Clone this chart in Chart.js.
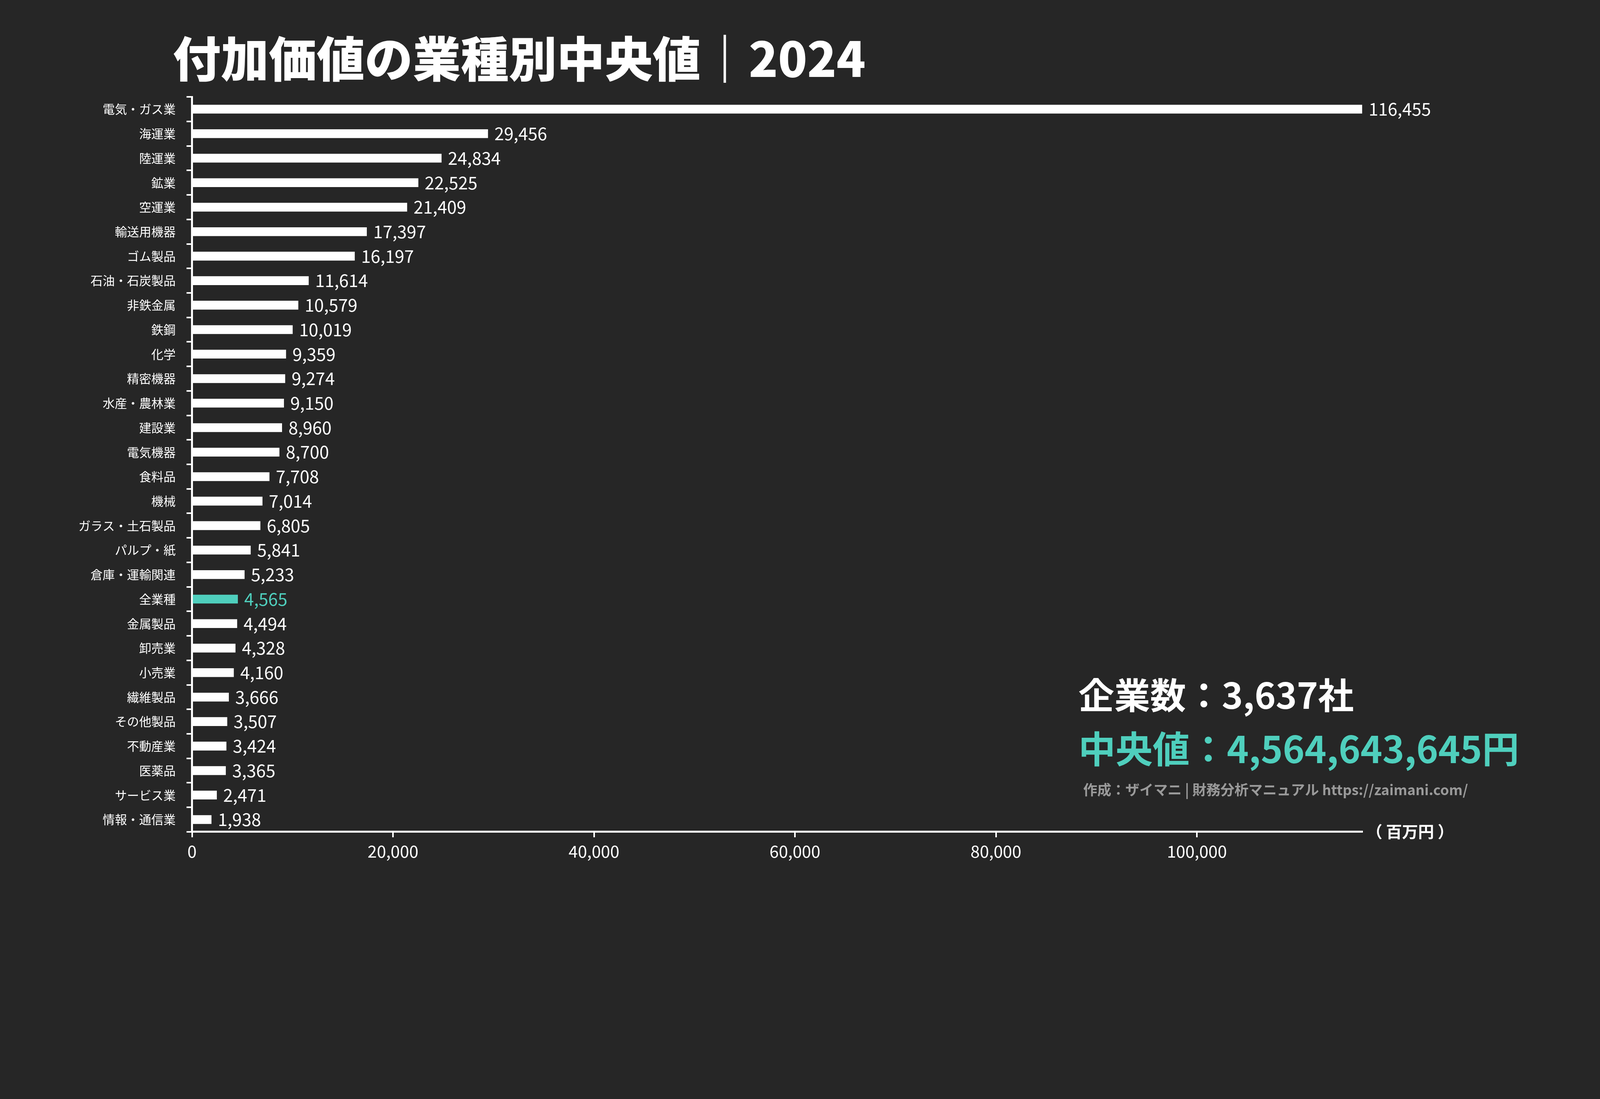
<!DOCTYPE html>
<html><head><meta charset="utf-8">
<script src="https://cdn.jsdelivr.net/npm/chart.js@4"></script>
<style>html,body{margin:0;background:#262626;overflow:hidden;}#wrap{width:100vw;height:56.28vw;position:relative;}</style>
</head><body><div id="wrap"><canvas id="myChart"></canvas></div>
<script>
const industries = ['電気・ガス業','海運業','陸運業','鉱業','空運業','輸送用機器','ゴム製品','石油・石炭製品','非鉄金属','鉄鋼','化学','精密機器','水産・農林業','建設業','電気機器','食料品','機械','ガラス・土石製品','パルプ・紙','倉庫・運輸関連','全業種','金属製品','卸売業','小売業','繊維製品','その他製品','不動産業','医薬品','サービス業','情報・通信業'];
const medianValues = [116455,29456,24834,22525,21409,17397,16197,11614,10579,10019,9359,9274,9150,8960,8700,7708,7014,6805,5841,5233,4565,4494,4328,4160,3666,3507,3424,3365,2471,1938];
const xTicks = [0,20000,40000,60000,80000,100000];
const highlight = '全業種';
const FONT = '"Noto Sans CJK JP", "Noto Sans", sans-serif';
const teal = '#4fcfbd';
const colors = industries.map(n => n === highlight ? teal : '#ffffff');
const k = chart => chart.width / 5000;

const overlay = {
  id: 'overlay',
  afterDatasetsDraw(chart) {
    const c = chart.ctx, s = k(chart);
    const meta = chart.getDatasetMeta(0);
    c.save();
    c.textBaseline = 'middle';
    c.font = (54 * s) + 'px ' + FONT;
    meta.data.forEach((bar, i) => {
      c.fillStyle = colors[i];
      c.fillText(medianValues[i].toLocaleString('en-US'), bar.x + 20 * s, bar.y);
    });
    c.textBaseline = 'alphabetic';
    c.fillStyle = '#fff';
    c.font = '900 ' + (150 * s) + 'px ' + FONT;
    c.fillText('付加価値の業種別中央値｜2024', 540 * s, 240 * s);
    c.font = 'bold ' + (112 * s) + 'px ' + FONT;
    c.fillText('企業数：3,637社', 3370 * s, 2215 * s);
    c.fillStyle = teal;
    c.font = 'bold ' + (116 * s) + 'px ' + FONT;
    c.fillText('中央値：4,564,643,645円', 3370 * s, 2385 * s);
    c.fillStyle = '#9a9a9a';
    c.font = 'bold ' + (44 * s) + 'px ' + FONT;
    c.fillText('作成：ザイマニ | 財務分析マニュアル https://zaimani.com/', 3385 * s, 2485 * s);
    c.fillStyle = '#fff';
    c.font = 'bold ' + (50 * s) + 'px ' + FONT;
    c.textBaseline = 'middle';
    c.fillText('（ 百万円 ）', 4270 * s, 2600 * s);
    c.restore();
  }
};

new Chart(document.getElementById('myChart'), {
  type: 'bar',
  data: {
    labels: industries,
    datasets: [{ data: medianValues, backgroundColor: colors, barPercentage: 0.36, categoryPercentage: 1 }]
  },
  options: {
    responsive: true,
    maintainAspectRatio: false,
    indexAxis: 'y',
    animation: false,
    layout: { padding: ctx => { const s = k(ctx.chart); return { top: 303 * s, right: 743 * s, bottom: 64 * s, left: 0 }; } },
    plugins: { legend: { display: false }, tooltip: { enabled: false } },
    scales: {
      x: {
        min: 0, max: 116455,
        afterBuildTicks: a => { a.ticks = xTicks.map(v => ({ value: v })); },
        afterFit: a => { a.height = 150 * k(a.chart); },
        border: { color: '#ffffff', width: 5 },
        grid: { drawOnChartArea: false, color: '#ffffff', tickLength: 14, lineWidth: 4 },
        ticks: { color: '#ffffff', font: ctx => ({ size: 52 * k(ctx.chart), family: FONT }), padding: 10,
                 callback: v => v.toLocaleString('en-US') }
      },
      y: {
        afterFit: a => { a.width = 600 * k(a.chart); },
        border: { color: '#ffffff', width: 5 },
        grid: { drawOnChartArea: false, color: '#ffffff', tickLength: 14, lineWidth: 4 },
        ticks: { color: '#ffffff', font: ctx => ({ size: 38 * k(ctx.chart), family: FONT }), padding: 28, autoSkip: false }
      }
    }
  },
  plugins: [overlay]
});
</script></body></html>
